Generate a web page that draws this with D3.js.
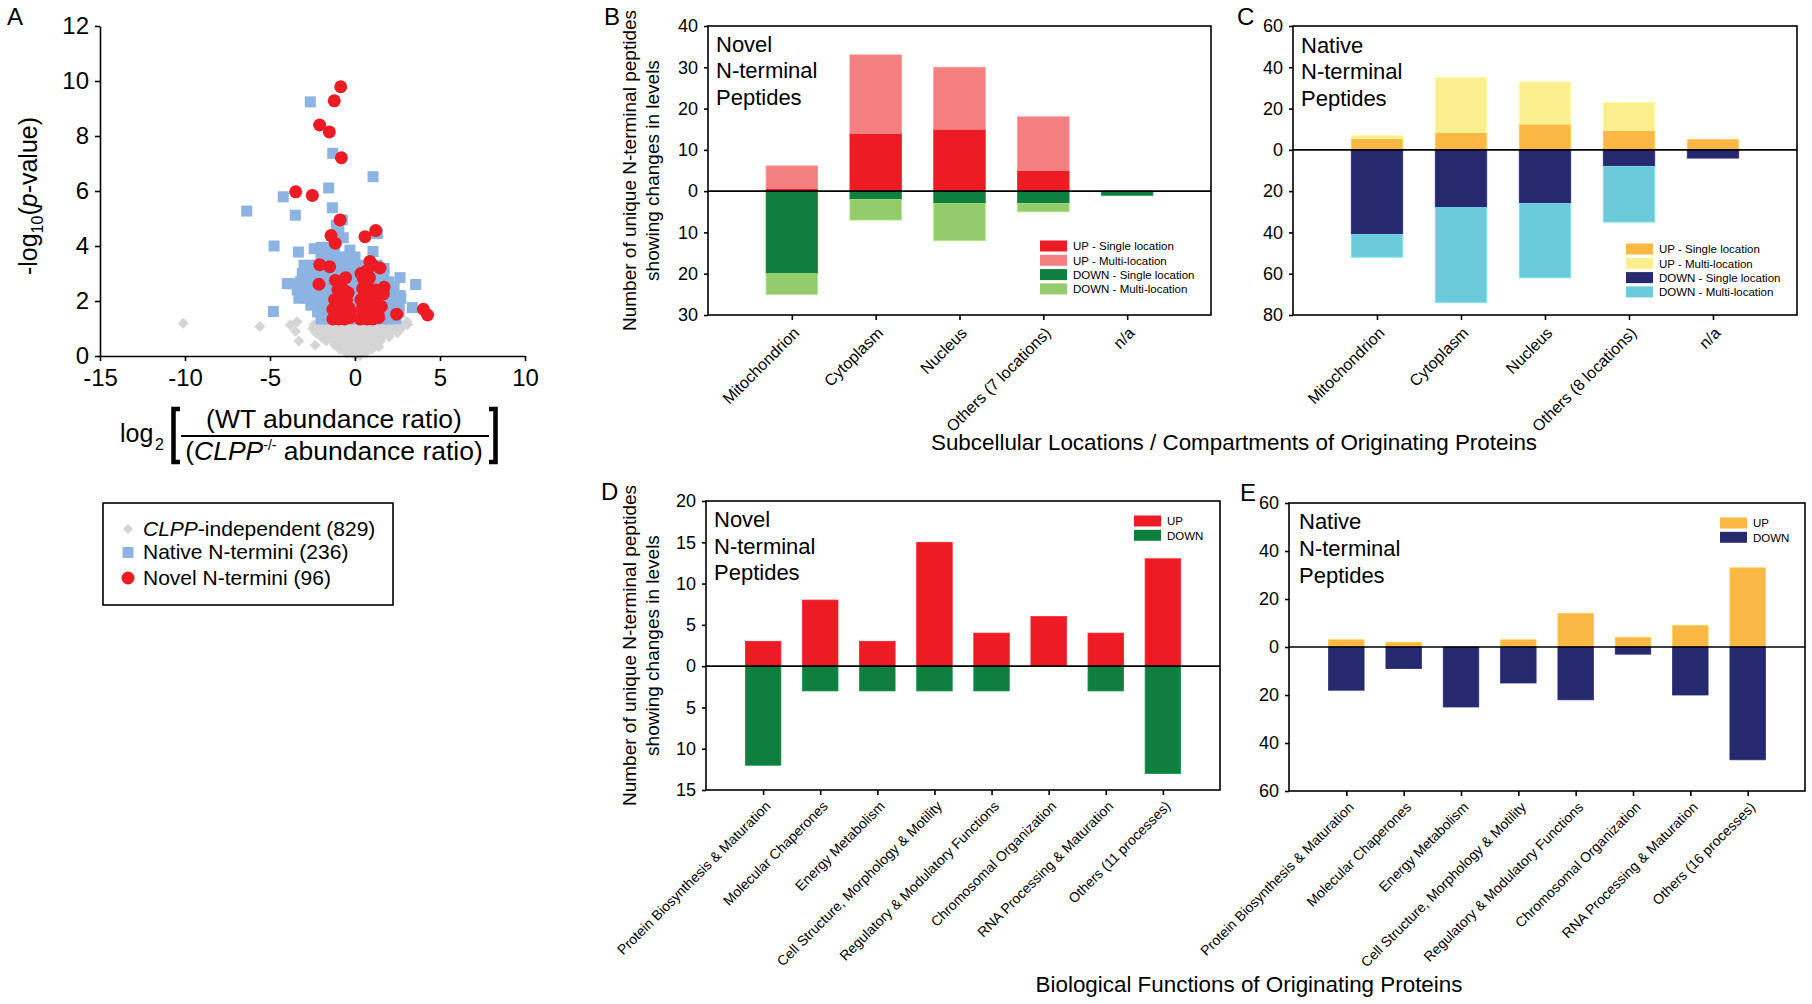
<!DOCTYPE html>
<html><head><meta charset="utf-8">
<script src="https://cdn.jsdelivr.net/npm/d3@7"></script>
<style>
body{margin:0;background:#fff;}
text{font-family:"Liberation Sans",Arial,Helvetica,sans-serif;fill:#000;}
</style>
</head><body>
<svg id="c" width="1812" height="1004"></svg>
<script>
// ================= DATA =================
// Panel A: volcano plot points [log2 ratio, -log10 p]
const grayPoints = [
[-2.4,1.15],[-2.0,1.15],[-1.7,1.15],[-1.3,1.15],[-1.0,1.15],[-0.6,1.15],[-0.3,1.15],[0.1,1.15],[0.4,1.15],[0.8,1.15],[1.1,1.15],[1.5,1.15],[1.8,1.15],[2.2,1.15],[2.5,1.15],[2.9,1.15],[3.1,1.15],
[-2.5,1.0],[-2.1,1.0],[-1.7,1.0],[-1.3,1.0],[-0.9,1.0],[-0.5,1.0],[-0.1,1.0],[0.3,1.0],[0.7,1.0],[1.1,1.0],[1.5,1.0],[1.9,1.0],[2.3,1.0],[2.7,1.0],
[-2.3,0.85],[-1.9,0.85],[-1.5,0.85],[-1.1,0.85],[-0.7,0.85],[-0.3,0.85],[0.1,0.85],[0.5,0.85],[0.9,0.85],[1.3,0.85],[1.7,0.85],[2.1,0.85],[2.5,0.85],
[-2.0,0.7],[-1.6,0.7],[-1.2,0.7],[-0.8,0.7],[-0.4,0.7],[0.0,0.7],[0.4,0.7],[0.8,0.7],[1.2,0.7],[1.6,0.7],[2.0,0.7],
[-1.7,0.55],[-1.3,0.55],[-0.9,0.55],[-0.5,0.55],[-0.1,0.55],[0.3,0.55],[0.7,0.55],[1.1,0.55],[1.5,0.55],
[-1.2,0.4],[-0.8,0.4],[-0.4,0.4],[0.0,0.4],[0.4,0.4],[0.8,0.4],[1.2,0.4],
[-0.9,0.25],[-0.5,0.25],[-0.1,0.25],[0.3,0.25],[0.7,0.25],[1.0,0.25],
[-0.5,0.1],[-0.1,0.1],[0.3,0.1],[0.6,0.1],
[0.0,0.02],[0.3,0.02],
[-10.1,1.19],[-5.6,1.07],[-3.8,1.13],[-3.4,1.25],[-3.3,0.55],[-3.5,0.9],[-2.3,1.07],[-2.35,0.39],[2.65,1.13],[3.07,1.25],[1.4,0.34]
];
const bluePoints = [
[-2.0,1.35],[-1.6,1.35],[-1.2,1.35],[-0.8,1.35],[-0.4,1.35],[0.0,1.35],[0.4,1.35],[0.8,1.35],[1.2,1.35],[1.6,1.35],[2.0,1.35],[2.4,1.35],
[-2.2,1.6],[-1.8,1.6],[-1.4,1.6],[-1.0,1.6],[-0.6,1.6],[-0.2,1.6],[0.2,1.6],[0.6,1.6],[1.0,1.6],[1.4,1.6],[1.8,1.6],[2.2,1.6],[2.6,1.6],
[-2.6,1.85],[-2.2,1.85],[-1.8,1.85],[-1.4,1.85],[-1.0,1.85],[-0.6,1.85],[-0.2,1.85],[0.2,1.85],[0.6,1.85],[1.0,1.85],[1.4,1.85],[1.8,1.85],[2.2,1.85],[2.6,1.85],
[-3.3,2.1],[-2.9,2.1],[-2.5,2.1],[-2.1,2.1],[-1.7,2.1],[-1.3,2.1],[-0.9,2.1],[-0.5,2.1],[-0.1,2.1],[0.3,2.1],[0.7,2.1],[1.1,2.1],[1.5,2.1],[1.9,2.1],[2.3,2.1],[2.7,2.1],
[-3.4,2.4],[-3.0,2.4],[-2.6,2.4],[-2.2,2.4],[-1.8,2.4],[-1.4,2.4],[-1.0,2.4],[-0.6,2.4],[-0.2,2.4],[0.2,2.4],[0.6,2.4],[1.0,2.4],[1.4,2.4],[1.8,2.4],[2.2,2.4],
[-3.2,2.7],[-2.8,2.7],[-2.4,2.7],[-2.0,2.7],[-1.6,2.7],[-1.2,2.7],[-0.8,2.7],[-0.4,2.7],[0.0,2.7],[0.4,2.7],[0.8,2.7],[1.2,2.7],[1.6,2.7],[2.0,2.7],
[-3.1,3.0],[-2.7,3.0],[-2.3,3.0],[-1.9,3.0],[-1.5,3.0],[-1.1,3.0],[-0.7,3.0],[-0.3,3.0],[0.1,3.0],[0.5,3.0],[0.9,3.0],[1.3,3.0],[1.7,3.0],
[-3.0,3.3],[-2.6,3.3],[-2.2,3.3],[-1.8,3.3],[-1.4,3.3],[-1.0,3.3],[-0.6,3.3],[-0.2,3.3],[0.3,3.3],[0.8,3.3],[1.3,3.3],
[-2.0,3.6],[-1.6,3.6],[-1.2,3.6],[-0.8,3.6],[-0.4,3.6],[0.0,3.6],
[-2.4,3.9],[-2.0,3.95],[-1.6,3.95],[-1.2,3.85],[-0.3,3.85],
[-2.63,9.24],[-1.31,7.37],[1.06,6.52],[-1.55,6.11],[-4.22,5.79],[-6.37,5.27],[-3.51,5.12],[-1.33,5.39],
[-4.76,4.0],[-3.33,3.78],[1.06,3.8],[1.71,3.18],[2.65,2.85],[3.57,2.6],[-3.78,2.63],[-3.98,2.63],
[-4.8,1.62],[3.37,1.76],[1.32,4.45],[-0.69,4.3],[-0.95,4.55],[-1.1,4.75],[-0.75,4.95],[2.65,2.2],[2.3,2.5]
];
const redPoints = [
[-0.84,9.79],[-1.22,9.28],[-2.08,8.40],[-1.51,8.15],[-0.80,7.21],[-3.49,5.97],[-2.51,5.84],[-0.88,4.95],
[1.22,4.56],[0.59,4.34],[-1.41,4.38],[-1.16,4.10],[-2.08,3.32],[-1.49,3.25],[-2.12,2.61],[0.88,3.44],
[1.47,3.20],[1.71,2.50],[1.67,2.26],[2.45,1.52],[4.02,1.70],[4.27,1.49],
[-1.3,1.35],[-0.95,1.35],[-0.6,1.35],[-0.3,1.4],[-1.3,1.7],[-0.95,1.7],[-0.6,1.7],[-0.35,1.75],
[-1.2,2.05],[-0.85,2.05],[-0.5,2.05],[-1.0,2.4],[-0.65,2.4],[-0.4,2.3],[-1.15,2.75],[-0.55,2.85],
[-0.85,2.6],[-0.3,1.55],[-1.15,1.5],
[0.3,1.35],[0.7,1.35],[1.05,1.35],[1.4,1.4],[0.4,1.7],[0.8,1.7],[1.2,1.75],[1.55,1.8],
[0.35,2.05],[0.75,2.1],[1.15,2.05],[0.45,2.45],[0.85,2.45],[1.2,2.4],[0.5,2.8],[0.85,2.85],
[0.35,3.0],[0.7,3.1],[1.05,3.3],[1.35,1.55],[0.55,1.55]
];
const xTicksA = [-15,-10,-5,0,5,10];
const yTicksA = [0,2,4,6,8,10,12];

// Panels B & C: subcellular locations
const locNovel = ["Mitochondrion","Cytoplasm","Nucleus","Others (7 locations)","n/a"];
const locNative = ["Mitochondrion","Cytoplasm","Nucleus","Others (8 locations)","n/a"];
const novelUpSingle   = [0.6, 14, 15, 5, 0];
const novelUpMulti    = [5.5, 19, 15, 13, 0];
const novelDownSingle = [20, 2, 3, 3, 1];
const novelDownMulti  = [5, 5, 9, 2, 0];
const nativeUpSingle   = [5.5, 8.5, 12.5, 9.5, 5];
const nativeUpMulti    = [1.5, 26.5, 20.5, 13.5, 0];
const nativeDownSingle = [41, 28, 26, 8, 4];
const nativeDownMulti  = [11, 46, 36, 27, 0];
const locLegend = ["UP - Single location","UP - Multi-location","DOWN - Single location","DOWN - Multi-location"];

// Panels D & E: biological functions
const funcNovel = ["Protein Biosynthesis & Maturation","Molecular Chaperones","Energy Metabolism","Cell Structure, Morphology & Motility","Regulatory & Modulatory Functions","Chromosomal Organization","RNA Processing & Maturation","Others (11 processes)"];
const funcNative = ["Protein Biosynthesis & Maturation","Molecular Chaperones","Energy Metabolism","Cell Structure, Morphology & Motility","Regulatory & Modulatory Functions","Chromosomal Organization","RNA Processing & Maturation","Others (16 processes)"];
const novelFuncUp   = [3, 8, 3, 15, 4, 6, 4, 13];
const novelFuncDown = [12, 3, 3, 3, 3, 0, 3, 13];
const nativeFuncUp   = [3, 2, 0, 3, 14, 4, 9, 33];
const nativeFuncDown = [18, 9, 25, 15, 22, 3, 20, 47];
const funcLegend = ["UP","DOWN"];

// ================= DRAW =================
const svg = d3.select("#c");

// ---------- Panel A ----------
const xA = d3.scaleLinear().domain([-15,10]).range([100,525]);
const yA = d3.scaleLinear().domain([0,12]).range([356,26]);
const gA = svg.append("g");
const diamond = (cx, cy, r) => `M${cx},${cy-r}L${cx+r},${cy}L${cx},${cy+r}L${cx-r},${cy}Z`;
gA.selectAll(".gp").data(grayPoints).join("path").attr("class","gp")
  .attr("d", d => diamond(xA(d[0]), yA(d[1]), 5.5)).attr("fill","#d5d5d5");
gA.selectAll(".bp").data(bluePoints).join("rect").attr("class","bp")
  .attr("x", d => xA(d[0]) - 5.5).attr("y", d => yA(d[1]) - 5.5)
  .attr("width", 11).attr("height", 11).attr("fill","#8db3e2");
gA.selectAll(".rp").data(redPoints).join("circle").attr("class","rp")
  .attr("cx", d => xA(d[0])).attr("cy", d => yA(d[1])).attr("r", 6.5).attr("fill","#ed1c24");

const axA_y = gA.append("g").attr("transform","translate(100,0)")
  .call(d3.axisLeft(yA).tickValues(yTicksA).tickSize(5).tickSizeOuter(0).tickPadding(6).tickFormat(d => String(d)));
const axA_x = gA.append("g").attr("transform","translate(0,356)")
  .call(d3.axisBottom(xA).tickValues(xTicksA).tickSize(5).tickSizeOuter(0).tickPadding(8).tickFormat(d => String(d)));
[axA_y, axA_x].forEach(a => {
  a.attr("font-size", null).attr("font-family", null);
  a.selectAll("path,line").attr("stroke","#000").attr("stroke-width",1.6);
  a.selectAll("text").style("font-size","24px");
});

svg.append("text").attr("x",7).attr("y",25).style("font-size","24px").text("A");

const yt = svg.append("text").attr("transform","translate(37,196) rotate(-90)")
  .attr("text-anchor","middle").style("font-size","25px");
yt.append("tspan").text("-log");
yt.append("tspan").attr("dy",6).style("font-size","16px").text("10");
yt.append("tspan").attr("dy",-6).text("(");
yt.append("tspan").style("font-style","italic").text("p");
yt.append("tspan").text("-value)");

svg.append("text").attr("x",120).attr("y",442).style("font-size","25px").text("log");
svg.append("text").attr("x",155).attr("y",450).style("font-size","16px").text("2");
svg.append("path").attr("d","M180,409 L173.5,409 L173.5,462 L180,462")
  .attr("fill","none").attr("stroke","#000").attr("stroke-width",4.5);
svg.append("path").attr("d","M489,409 L495.5,409 L495.5,462 L489,462")
  .attr("fill","none").attr("stroke","#000").attr("stroke-width",4.5);
svg.append("line").attr("x1",181).attr("x2",489).attr("y1",436).attr("y2",436)
  .attr("stroke","#000").attr("stroke-width",2);
svg.append("text").attr("x",334).attr("y",428).attr("text-anchor","middle")
  .style("font-size","26.5px").text("(WT abundance ratio)");
const den = svg.append("text").attr("x",334).attr("y",460).attr("text-anchor","middle").style("font-size","26.5px");
den.append("tspan").text("(");
den.append("tspan").style("font-style","italic").text("CLPP");
den.append("tspan").attr("dy",-10).style("font-size","14px").text("-/-");
den.append("tspan").attr("dy",10).text(" abundance ratio)");

// legend A
svg.append("rect").attr("x",103).attr("y",503).attr("width",290).attr("height",102)
  .attr("fill","none").attr("stroke","#000").attr("stroke-width",1.6);
svg.append("path").attr("d", diamond(128,529,5)).attr("fill","#d5d5d5");
svg.append("rect").attr("x",122.5).attr("y",547).attr("width",11).attr("height",11).attr("fill","#8db3e2");
svg.append("circle").attr("cx",128).attr("cy",578).attr("r",6.5).attr("fill","#ed1c24");
const l1 = svg.append("text").attr("x",143).attr("y",536).style("font-size","21px");
l1.append("tspan").style("font-style","italic").text("CLPP");
l1.append("tspan").text("-independent (829)");
svg.append("text").attr("x",143).attr("y",559).style("font-size","21px").text("Native N-termini (236)");
svg.append("text").attr("x",143).attr("y",585).style("font-size","21px").text("Novel N-termini (96)");

// ---------- Bar panel helper ----------
function barPanel(cfg) {
  const g = svg.append("g");
  const x = d3.scalePoint().domain(cfg.cats).range([cfg.x0, cfg.x1]).padding(1);
  const y = d3.scaleLinear().domain(cfg.yDomain).range([cfg.y1, cfg.y0]);
  const rows = cfg.cats.map((c, i) => {
    const r = {cat: c};
    cfg.series.forEach(s => { r[s.key] = s.sign * s.values[i]; });
    return r;
  });
  const layers = d3.stack().keys(cfg.series.map(s => s.key)).offset(d3.stackOffsetDiverging)(rows);
  layers.forEach((layer, li) => {
    const col = cfg.series[li].color;
    g.selectAll(null).data(layer.filter(d => d[1] !== d[0])).join("rect")
      .attr("x", d => x(d.data.cat) - cfg.bw / 2).attr("width", cfg.bw)
      .attr("y", d => y(Math.max(d[0], d[1])))
      .attr("height", d => Math.abs(y(d[0]) - y(d[1])))
      .attr("fill", col)
      .attr("stroke", d3.color(col).brighter(0.35)).attr("stroke-width", 0.8);
  });
  g.append("line").attr("x1", cfg.x0).attr("x2", cfg.x1).attr("y1", y(0)).attr("y2", y(0))
    .attr("stroke","#000").attr("stroke-width",1.6);
  g.append("rect").attr("x", cfg.x0).attr("y", cfg.y0).attr("width", cfg.x1 - cfg.x0)
    .attr("height", cfg.y1 - cfg.y0).attr("fill","none").attr("stroke","#000").attr("stroke-width",1.6);
  const ya = g.append("g").attr("transform", `translate(${cfg.x0},0)`)
    .call(d3.axisLeft(y).tickValues(cfg.yTicks).tickFormat(d => String(Math.abs(d))).tickSize(4).tickSizeOuter(0).tickPadding(6));
  const xa = g.append("g").attr("transform", `translate(0,${cfg.y1})`)
    .call(d3.axisBottom(x).tickSize(5).tickSizeOuter(0));
  [ya, xa].forEach(a => {
    a.attr("font-size", null).attr("font-family", null);
    a.select(".domain").remove();
    a.selectAll("line").attr("stroke","#000").attr("stroke-width",1.6);
  });
  ya.selectAll("text").style("font-size","18px");
  xa.selectAll("text").attr("x",0).attr("y",0).attr("dy",0).attr("text-anchor","end")
    .attr("transform", `translate(${cfg.ldx},${cfg.ldy}) rotate(-45)`)
    .style("font-size", cfg.catSize + "px");
  // legend
  cfg.legend.forEach((lab, i) => {
    const ly = cfg.ly + i * cfg.lstep;
    g.append("rect").attr("x", cfg.lx).attr("y", ly - 5.5).attr("width", 27).attr("height", 11)
      .attr("fill", cfg.series[i].color);
    g.append("text").attr("x", cfg.lx + 33).attr("y", ly + 4.2).style("font-size","11.5px").text(lab);
  });
  // inset label
  cfg.inset.forEach((t, i) => {
    g.append("text").attr("x", cfg.ix).attr("y", cfg.iy[i]).style("font-size","22px").text(t);
  });
  g.append("text").attr("x", cfg.letter[1]).attr("y", cfg.letter[2]).style("font-size","24px").text(cfg.letter[0]);
}

const cRed = "#ed1c24", cPink = "#f47f80", cDGreen = "#0f7f3f", cLGreen = "#94cb6c";
const cOrange = "#fbb845", cYellow = "#fbee8e", cNavy = "#27296f", cCyan = "#6bcbdb";

barPanel({
  cats: locNovel, x0: 708, x1: 1211, y0: 26, y1: 315, yDomain: [-30, 40],
  yTicks: [-30,-20,-10,0,10,20,30,40], bw: 51.5, catSize: 16, ldx: 8, ldy: 19,
  series: [
    {key:"us", values: novelUpSingle, sign: 1, color: cRed},
    {key:"um", values: novelUpMulti, sign: 1, color: cPink},
    {key:"ds", values: novelDownSingle, sign: -1, color: cDGreen},
    {key:"dm", values: novelDownMulti, sign: -1, color: cLGreen}],
  legend: locLegend, lx: 1040, ly: 246, lstep: 14.3,
  inset: ["Novel","N-terminal","Peptides"], ix: 716, iy: [52, 78, 105],
  letter: ["B", 604, 25]
});
barPanel({
  cats: locNative, x0: 1293, x1: 1797, y0: 26, y1: 315, yDomain: [-80, 60],
  yTicks: [-80,-60,-40,-20,0,20,40,60], bw: 51.5, catSize: 16, ldx: 8, ldy: 19,
  series: [
    {key:"us", values: nativeUpSingle, sign: 1, color: cOrange},
    {key:"um", values: nativeUpMulti, sign: 1, color: cYellow},
    {key:"ds", values: nativeDownSingle, sign: -1, color: cNavy},
    {key:"dm", values: nativeDownMulti, sign: -1, color: cCyan}],
  legend: locLegend, lx: 1626, ly: 249, lstep: 14.3,
  inset: ["Native","N-terminal","Peptides"], ix: 1301, iy: [53, 79, 106],
  letter: ["C", 1237, 25]
});
barPanel({
  cats: funcNovel, x0: 706, x1: 1220, y0: 501, y1: 790, yDomain: [-15, 20],
  yTicks: [-15,-10,-5,0,5,10,15,20], bw: 35.5, catSize: 14, ldx: 8, ldy: 17,
  series: [
    {key:"u", values: novelFuncUp, sign: 1, color: cRed},
    {key:"d", values: novelFuncDown, sign: -1, color: cDGreen}],
  legend: funcLegend, lx: 1134, ly: 521, lstep: 14.3,
  inset: ["Novel","N-terminal","Peptides"], ix: 714, iy: [527, 554, 580],
  letter: ["D", 601, 500]
});
barPanel({
  cats: funcNative, x0: 1289, x1: 1805, y0: 503, y1: 791, yDomain: [-60, 60],
  yTicks: [-60,-40,-20,0,20,40,60], bw: 35.5, catSize: 14, ldx: 8, ldy: 17,
  series: [
    {key:"u", values: nativeFuncUp, sign: 1, color: cOrange},
    {key:"d", values: nativeFuncDown, sign: -1, color: cNavy}],
  legend: funcLegend, lx: 1720, ly: 523, lstep: 14.3,
  inset: ["Native","N-terminal","Peptides"], ix: 1299, iy: [529, 556, 583],
  letter: ["E", 1240, 501]
});

// shared y titles for B and D
[[170.5],[645.5]].forEach(([cy]) => {
  svg.append("text").attr("transform", `translate(636,${cy}) rotate(-90)`).attr("text-anchor","middle")
    .style("font-size","19px").text("Number of unique N-terminal peptides");
  svg.append("text").attr("transform", `translate(659,${cy}) rotate(-90)`).attr("text-anchor","middle")
    .style("font-size","19px").text("showing changes in levels");
});
svg.append("text").attr("x",1234).attr("y",450).attr("text-anchor","middle").style("font-size","22.4px")
  .text("Subcellular Locations / Compartments of Originating Proteins");
svg.append("text").attr("x",1249).attr("y",992).attr("text-anchor","middle").style("font-size","22.4px")
  .text("Biological Functions of Originating Proteins");
</script>
</body></html>
